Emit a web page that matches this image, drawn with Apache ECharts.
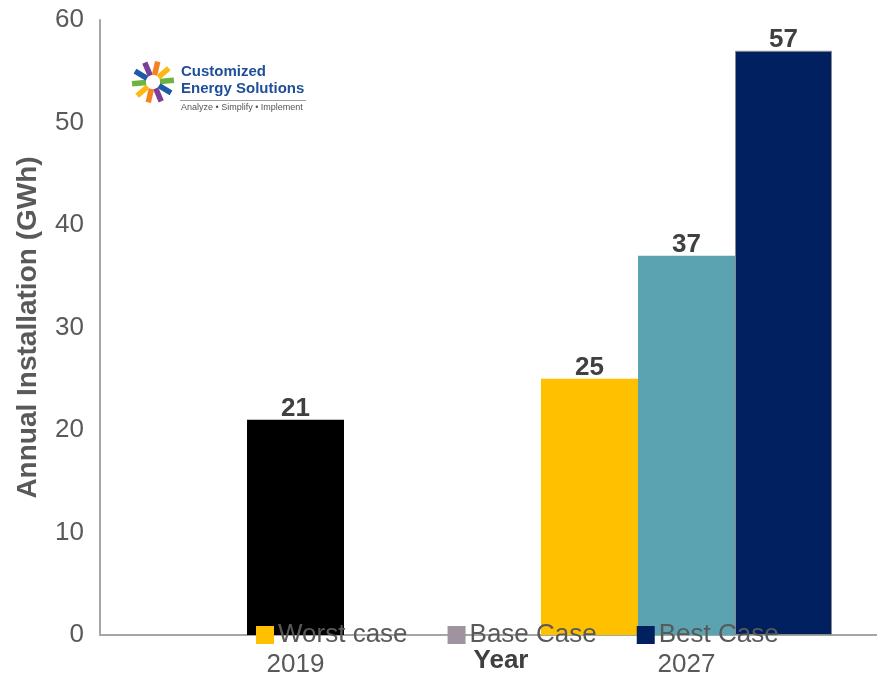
<!DOCTYPE html>
<html>
<head>
<meta charset="utf-8">
<script src="https://cdn.jsdelivr.net/npm/echarts@6/dist/echarts.min.js"></script>
<style>
html,body{margin:0;padding:0;background:#fff;}
#main{width:877px;height:679px;}
</style>
</head>
<body>
<div id="main"></div>
<script>
// ---- data ----
var categories = ['2019', '2027'];
var actual2019 = [21, null];
var worstCase = [null, 25];
var baseCase = [null, 37];
var bestCase = [null, 57];
var yTicks = [0, 10, 20, 30, 40, 50, 60];

var FONT = '"Liberation Sans", Arial, sans-serif';
var chart = echarts.init(document.getElementById('main'));

function toData(arr) { return arr.map(function (v) { return v == null ? '-' : v; }); }
var midData = categories.map(function (c, i) {
  if (actual2019[i] != null) return { value: actual2019[i], itemStyle: { color: '#000000' } };
  return baseCase[i] == null ? '-' : baseCase[i];
});

// logo rays
var logoGraphics = [];
var cx = 153, cy = 82;
var rayColors = ['#6cb33f', '#1f5aa6', '#7b3f98', '#f58220', '#fdb913'];
for (var k = 0; k < 10; k++) {
  var a = (-5 + 36 * k) * Math.PI / 180;
  logoGraphics.push({
    type: 'line',
    shape: { x1: cx + 7 * Math.cos(a), y1: cy + 7 * Math.sin(a), x2: cx + 21 * Math.cos(a), y2: cy + 21 * Math.sin(a) },
    style: { stroke: rayColors[k % 5], lineWidth: 5.5, lineCap: 'butt' },
    z: 100
  });
}
logoGraphics.push(
  { type: 'text', left: 181, top: 64, z: 100, style: { text: 'Customized', font: 'bold 15px ' + FONT, fill: '#1f4e9a' } },
  { type: 'text', left: 181, top: 81, z: 100, style: { text: 'Energy Solutions', font: 'bold 15px ' + FONT, fill: '#1f4e9a' } },
  { type: 'line', z: 100, shape: { x1: 180, y1: 100.5, x2: 306, y2: 100.5 }, style: { stroke: '#a0a0a0', lineWidth: 1 } },
  { type: 'text', left: 181, top: 103, z: 100, style: { text: 'Analyze \u2022 Simplify \u2022 Implement', font: '9px ' + FONT, fill: '#555555' } }
);

var labelCfg = { show: true, position: 'top', distance: -2, fontFamily: FONT, fontWeight: 'bold', fontSize: 26, color: '#404040' };

chart.setOption({
  animation: false,
  backgroundColor: '#ffffff',
  grid: { left: 100, right: -5, top: 20, bottom: 44, containLabel: false, outerBoundsMode: 'none' },
  legend: {
    left: 256, top: 622, padding: 0,
    itemWidth: 18, itemHeight: 18, itemGap: 40,
    icon: 'rect',
    textStyle: { fontFamily: FONT, fontSize: 26, color: '#595959', padding: [0, 0, 0, -1] },
    data: [
      { name: 'Worst case', itemStyle: { color: '#ffc000', borderWidth: 0 } },
      { name: 'Base Case', itemStyle: { color: '#9e939f', borderWidth: 0 } },
      { name: 'Best Case', itemStyle: { color: '#002060', borderWidth: 0 } }
    ]
  },
  xAxis: {
    type: 'category',
    data: categories,
    name: 'Year',
    nameLocation: 'middle',
    nameGap: 13,
    nameMoveOverlap: false,
    nameTextStyle: { fontFamily: FONT, fontWeight: 'bold', fontSize: 26, color: '#404040', padding: [0, 0, 0, 20], verticalAlign: 'top' },
    axisLine: { show: true, lineStyle: { color: '#a6a6a6', width: 2 } },
    axisTick: { show: false },
    axisLabel: { fontFamily: FONT, fontSize: 26, color: '#595959', margin: 17 }
  },
  yAxis: {
    type: 'value',
    min: yTicks[0], max: yTicks[yTicks.length - 1], interval: 10,
    name: 'Annual Installation (GWh)',
    nameLocation: 'middle',
    nameGap: 58,
    nameMoveOverlap: false,
    nameTextStyle: { fontFamily: FONT, fontWeight: 'bold', fontSize: 28, color: '#595959' },
    axisLine: { show: true, lineStyle: { color: '#a6a6a6', width: 2 } },
    axisTick: { show: false },
    splitLine: { show: false },
    axisLabel: { fontFamily: FONT, fontSize: 26, color: '#595959', margin: 16 }
  },
  series: [
    { name: 'Worst case', type: 'bar', data: toData(worstCase), barWidth: 97, barGap: '0%',
      itemStyle: { color: '#ffc000' }, label: labelCfg },
    { name: 'Base Case', type: 'bar', data: midData, barWidth: 97, barGap: '0%',
      itemStyle: { color: '#5ba3b0' }, label: labelCfg },
    { name: 'Best Case', type: 'bar', data: toData(bestCase), barWidth: 97, barGap: '0%',
      itemStyle: { color: '#002060', borderColor: '#8a8a8a', borderWidth: 1 }, label: labelCfg }
  ],
  graphic: logoGraphics
});
</script>
</body>
</html>
